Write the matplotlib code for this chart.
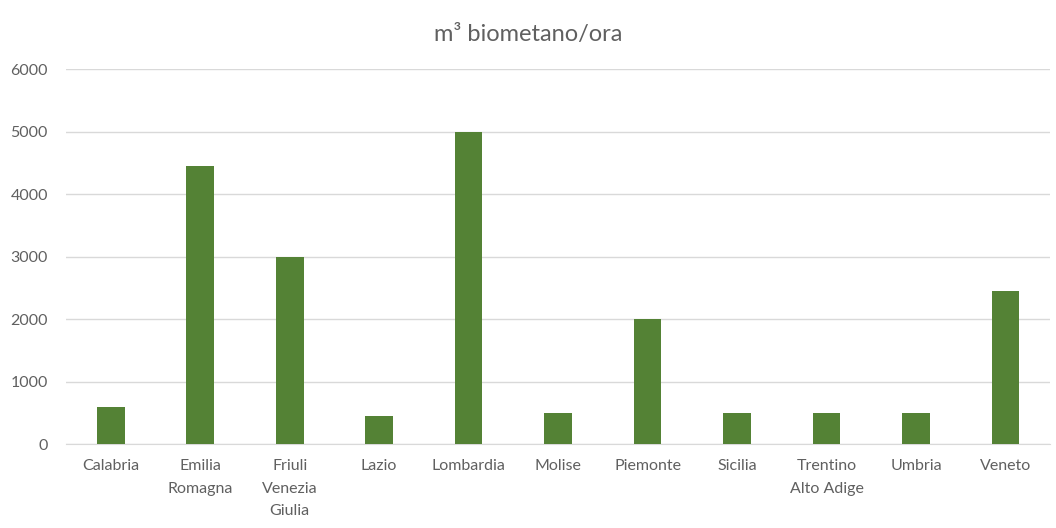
import matplotlib
matplotlib.use("Agg")
import matplotlib.pyplot as plt

categories = ["Calabria", "Emilia\nRomagna", "Friuli\nVenezia\nGiulia", "Lazio", "Lombardia",
              "Molise", "Piemonte", "Sicilia", "Trentino\nAlto Adige", "Umbria", "Veneto"]
values = [600, 4450, 3000, 450, 5000, 500, 2000, 500, 500, 500, 2450]
yticks = [0, 1000, 2000, 3000, 4000, 5000, 6000]
title = "m³ biometano/ora"

plt.rcParams['font.family'] = ['Lato', 'DejaVu Sans']
text_color = "#606060"
grid_color = "#d9d9d9"
bar_color = "#548235"

fig = plt.figure(figsize=(10.56, 5.28), dpi=100)
ax = fig.add_axes([0.0625, 0.159, 0.932, 0.710])
x = list(range(len(categories)))
ax.bar(x, values, width=0.31, color=bar_color, zorder=3)
ax.set_xlim(-0.5, len(categories) - 0.5)
ax.set_ylim(0, 6000)
ax.set_yticks(yticks)
ax.set_yticklabels([str(v) for v in yticks], fontsize=11.5, color=text_color)
ax.set_xticks(x)
ax.set_xticklabels(categories, fontsize=11.5, color=text_color, linespacing=1.75, va="top")
ax.tick_params(axis="both", length=0)
ax.tick_params(axis="y", pad=13)
ax.tick_params(axis="x", pad=11)
ax.grid(axis="y", color=grid_color, linewidth=1, zorder=0)
for s in ["top", "right", "left"]:
    ax.spines[s].set_visible(False)
ax.spines["bottom"].set_color(grid_color)
fig.text(0.5, 1 - 34 / 528, title, ha="center", va="center", fontsize=17, color=text_color)
fig.savefig("out.png", dpi=100, facecolor="white")
